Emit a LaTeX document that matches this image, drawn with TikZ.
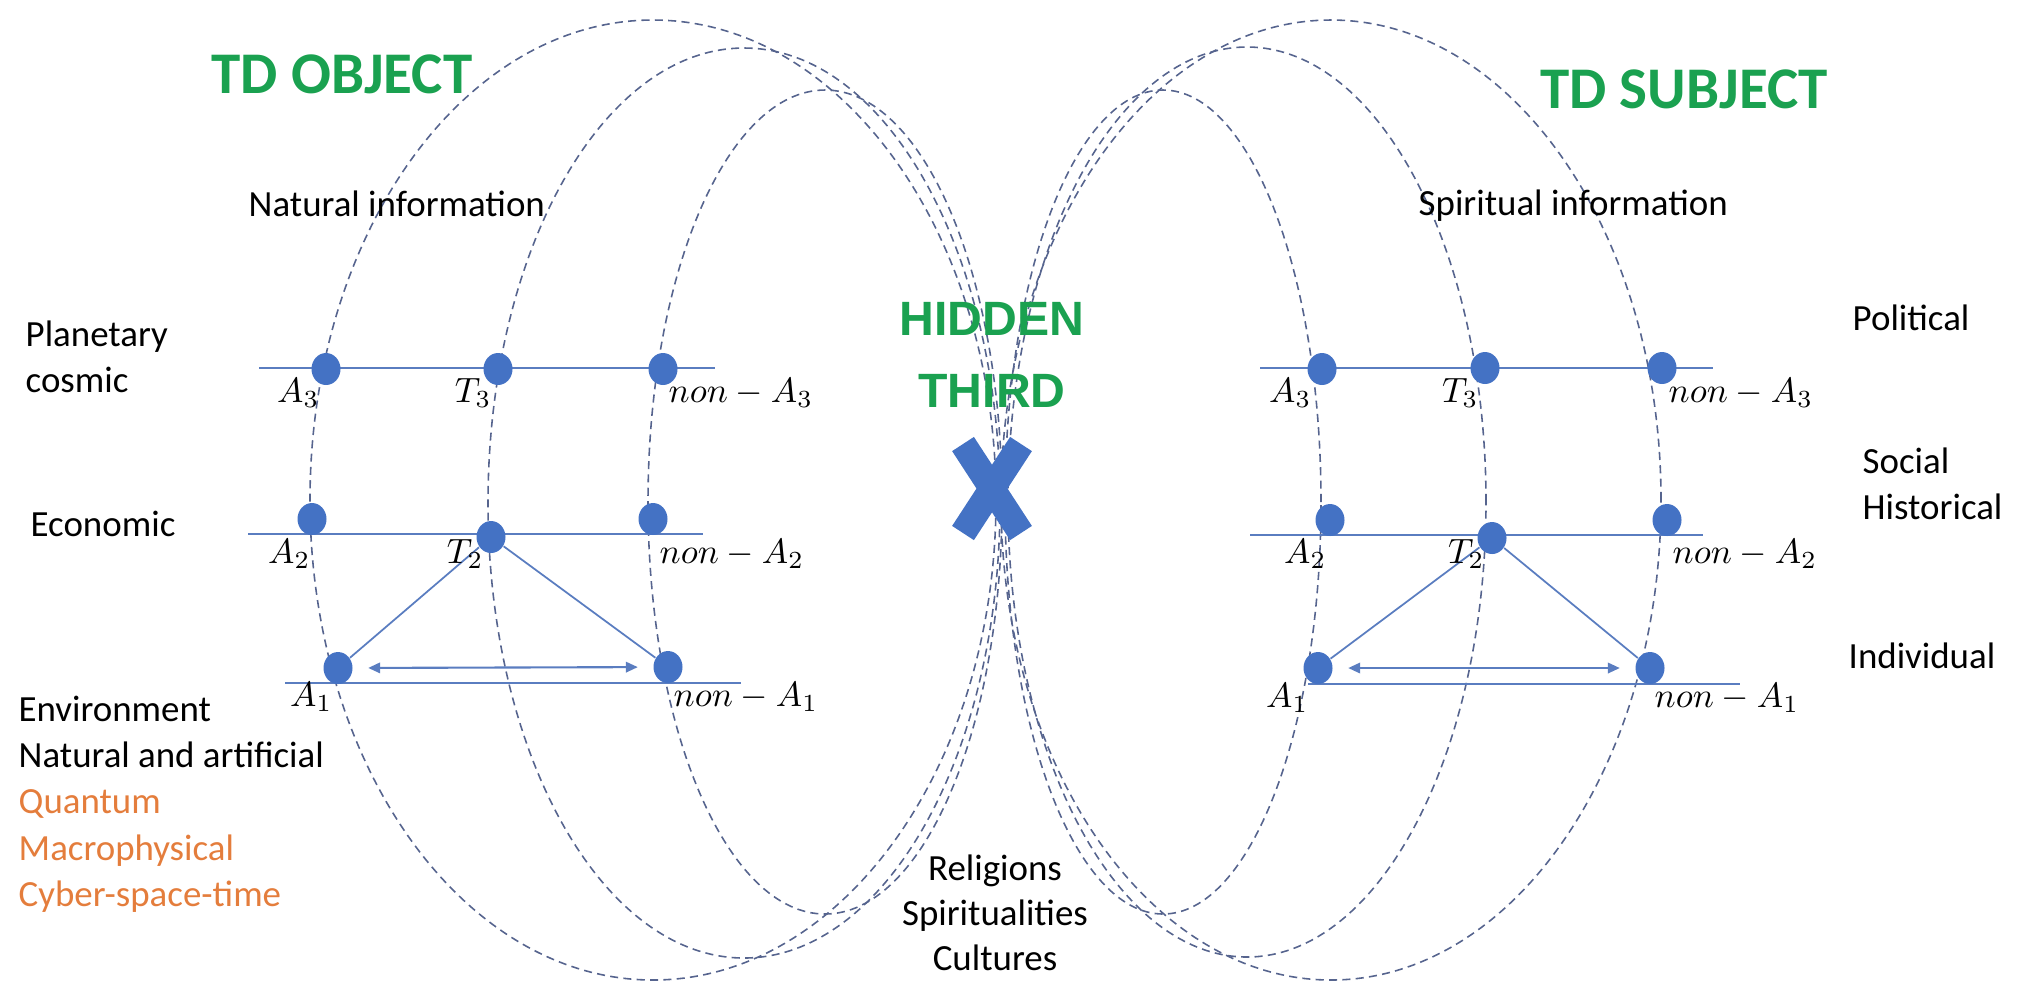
\documentclass[tikz,border=0pt]{standalone}
\usepackage{fontspec}
\setmainfont{Carlito}
\newfontfamily\headfont{Liberation Sans}
\usetikzlibrary{arrows.meta,shapes.geometric}
\definecolor{dotblue}{HTML}{4472C4}
\definecolor{rulerblue}{HTML}{5A7DC0}
\definecolor{orbitblue}{HTML}{56648E}
\definecolor{tdgreen}{HTML}{1AA150}
\definecolor{levelorange}{HTML}{E47D3C}
\begin{document}
\begin{tikzpicture}[x=0.1mm,y=-0.1mm,
  orbit/.style={draw=orbitblue, line width=0.45pt, dash pattern=on 2.3pt off 1.5pt},
  level/.style={draw=rulerblue, line width=0.6pt},
  link/.style={draw=rulerblue, line width=0.5pt},
  twoway/.style={draw=rulerblue, line width=0.6pt, {Triangle[length=1.2mm,width=1.05mm]}-{Triangle[length=1.2mm,width=1.05mm]}, shorten >=1.5mm, shorten <=1.5mm},
  pt/.style={ellipse, fill=dotblue, minimum width=2.9mm, minimum height=3.2mm, inner sep=0pt},
  sym/.style={font=\fontsize{10}{12}\selectfont, inner sep=0pt, text=black},
  lbl/.style={font=\fontsize{10.5}{12}\selectfont, inner sep=0pt, anchor=base west, text=black},
  ttl/.style={font=\bfseries\fontsize{16.8}{20}\selectfont, inner sep=0pt, anchor=base, text=tdgreen},
  hid/.style={font=\headfont\bfseries\fontsize{13.7}{16}\selectfont, inner sep=0pt, anchor=base, text=tdgreen},
  cross/.style={draw=dotblue, line width=7.4pt, line cap=butt}
]
\useasboundingbox (0,0) rectangle (2028,982);

% dashed orbits of the object side
\coordinate (lo) at (653,500);
\coordinate (lm) at (744,503);
\coordinate (li) at (825,502);
\draw[orbit] (lo) ellipse [x radius=34.3mm, y radius=48mm];
\draw[orbit] (lm) ellipse [x radius=25.6mm, y radius=45.5mm];
\draw[orbit] (li) ellipse [x radius=17.7mm, y radius=41.2mm];

% dashed orbits of the subject side
\coordinate (ri) at (1163,502);
\coordinate (rm) at (1247,502);
\coordinate (ro) at (1331,500);
\draw[orbit] (ri) ellipse [x radius=15.8mm, y radius=41.2mm];
\draw[orbit] (rm) ellipse [x radius=23.9mm, y radius=45.5mm];
\draw[orbit] (ro) ellipse [x radius=33mm, y radius=48mm];

% level lines
\coordinate (l3a) at (259,368); \coordinate (l3b) at (715,368);
\coordinate (l2a) at (248,534); \coordinate (l2b) at (703,534);
\coordinate (l1a) at (285,683); \coordinate (l1b) at (741,683);
\coordinate (r3a) at (1260,368); \coordinate (r3b) at (1713,368);
\coordinate (r2a) at (1250,535); \coordinate (r2b) at (1703,535);
\coordinate (r1a) at (1308,684); \coordinate (r1b) at (1740,684);
\draw[level] (l3a) -- (l3b);
\draw[level] (l2a) -- (l2b);
\draw[level] (l1a) -- (l1b);
\draw[level] (r3a) -- (r3b);
\draw[level] (r2a) -- (r2b);
\draw[level] (r1a) -- (r1b);

% points, object side
\node[pt] (lA3) at (326,369) {};
\node[pt] (lT3) at (498,369) {};
\node[pt] (lN3) at (663,369) {};
\node[pt] (lA2) at (312,519) {};
\node[pt] (lT2) at (491,537) {};
\node[pt] (lN2) at (653,519) {};
\node[pt] (lA1) at (338,668) {};
\node[pt] (lN1) at (668,667) {};

% points, subject side
\node[pt] (rA3) at (1322,369) {};
\node[pt] (rT3) at (1485,368) {};
\node[pt] (rN3) at (1662,368) {};
\node[pt] (rA2) at (1330,520) {};
\node[pt] (rT2) at (1492,538) {};
\node[pt] (rN2) at (1667,520) {};
\node[pt] (rA1) at (1318,668) {};
\node[pt] (rN1) at (1650,668) {};

% triangles and contradiction arrows
\draw[link] (lT2) -- (lA1);
\draw[link] (lT2) -- (lN1);
\draw[twoway] (lA1) -- (lN1);
\draw[link] (rT2) -- (rA1);
\draw[link] (rT2) -- (rN1);
\draw[twoway] (rA1) -- (rN1);

% point labels, object side
\node[sym, anchor=base east] (lA3t) at (320,402) {$A_3$};
\node[sym, anchor=base east] (lT3t) at (492,402) {$T_3$};
\node[sym, anchor=base west] (lN3t) at (668,402) {$non - A_3$};
\node[sym, anchor=base east] (lA2t) at (311,563) {$A_2$};
\node[sym, anchor=base east] (lT2t) at (484,563) {$T_2$};
\node[sym, anchor=base west] (lN2t) at (659,563) {$non - A_2$};
\node[sym, anchor=base east] (lA1t) at (333,706) {$A_1$};
\node[sym, anchor=base west] (lN1t) at (673,706) {$non - A_1$};

% point labels, subject side
\node[sym, anchor=base east] (rA3t) at (1312,402) {$A_3$};
\node[sym, anchor=base east] (rT3t) at (1479,402) {$T_3$};
\node[sym, anchor=base west] (rN3t) at (1668,402) {$non - A_3$};
\node[sym, anchor=base east] (rA2t) at (1327,563) {$A_2$};
\node[sym, anchor=base east] (rT2t) at (1485,563) {$T_2$};
\node[sym, anchor=base west] (rN2t) at (1672,563) {$non - A_2$};
\node[sym, anchor=base east] (rA1t) at (1309,707) {$A_1$};
\node[sym, anchor=base west] (rN1t) at (1654,707) {$non - A_1$};

% hidden third mark
\coordinate (xa) at (963,444); \coordinate (xb) at (1021,533);
\coordinate (xc) at (1021,444); \coordinate (xd) at (963,533);
\draw[cross] (xa) -- (xb);
\draw[cross] (xc) -- (xd);

% headings
\node[ttl] (tdo) at (342,93) {TD OBJECT};
\node[ttl] (tds) at (1684,108) {TD SUBJECT};
\node[hid] (hid1) at (992,335) {HIDDEN};
\node[hid] (hid2) at (992,407) {THIRD};

% level names and information kinds
\node[lbl] (nat) at (248,216) {Natural information};
\node[lbl] (spi) at (1418,215) {Spiritual information};
\node[lbl] (plan) at (25,346) {Planetary};
\node[lbl] (cos) at (25,392) {cosmic};
\node[lbl] (eco) at (30,536) {Economic};
\node[lbl] (env) at (18,721) {Environment};
\node[lbl] (nart) at (18,767) {Natural and artificial};
\node[lbl, text=levelorange] (qua) at (18,813) {Quantum};
\node[lbl, text=levelorange] (mac) at (18,860) {Macrophysical};
\node[lbl, text=levelorange] (cyb) at (18,906) {Cyber-space-time};
\node[lbl] (pol) at (1852,330) {Political};
\node[lbl] (soc) at (1862,473) {Social};
\node[lbl] (his) at (1862,519) {Historical};
\node[lbl] (ind) at (1848,668) {Individual};
\node[lbl, anchor=base] (rel) at (995,880) {Religions};
\node[lbl, anchor=base] (spr) at (995,925) {Spiritualities};
\node[lbl, anchor=base] (cul) at (995,970) {Cultures};
\end{tikzpicture}
\end{document}
